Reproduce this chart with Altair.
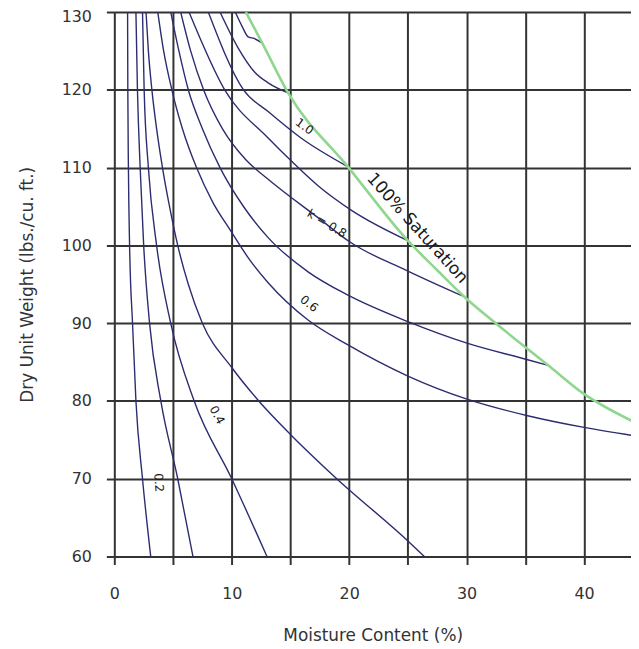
import altair as alt
import pandas as pd

# ---- curve data (moisture %, dry unit weight) ----
k02_x = [1.13, 1.15, 1.2, 1.3, 1.55, 1.84, 2.4, 3.1]
k02_y = [130, 120, 110, 100, 90, 80, 70, 60]

k03_x = [1.84, 1.97, 2.2, 2.5, 3.0, 3.96, 5.4, 6.7]
k03_y = [130, 120, 110, 100, 90, 80, 70, 60]

k04_x = [2.4, 2.54, 2.9, 3.6, 4.8, 6.8, 10.0, 13.0]
k04_y = [130, 120, 110, 100, 90, 80, 70, 60]

k05_x = [2.7, 2.9, 3.2, 3.6, 4.1, 4.7, 5.4, 6.3, 7.5, 10.0, 12.3, 15.0, 18.8, 25.0, 26.4]
k05_y = [130, 125, 120, 115, 110, 105, 100, 95, 90, 84.3, 80, 75.7, 70.2, 62.0, 60]

k06_x = [3.7, 4.2, 4.9, 5.8, 7.0, 8.4, 9.9, 11.5, 13.1, 16.5, 19.9, 25.0, 30.1, 35.2, 40.0, 44.4]
k06_y = [130, 125, 120, 115, 110, 105.5, 101.9, 98.2, 95.2, 90.4, 87.2, 83.2, 80.2, 78.1, 76.6, 75.5]

k07_x = [4.8, 5.5, 6.3, 7.5, 9.0, 11.0, 13.1, 16.5, 19.9, 25.0, 30.1, 35.2, 37.1]
k07_y = [130, 125, 120, 115, 110, 105, 101.0, 96.6, 93.6, 90.2, 87.4, 85.3, 84.5]

k08_x = [5.65, 6.5, 7.6, 9.2, 11.2, 13.1, 17.4, 20.1, 25.0, 29.8]
k08_y = [130, 125, 120, 115, 111, 108.5, 103.5, 100.4, 96.7, 93.4]

k09_x = [6.36, 9.4, 13.1, 15.1, 17.4, 20.2, 25.0]
k09_y = [130, 120, 113.8, 110.8, 107.6, 104.5, 100.6]

k10_x = [8.0, 11.0, 13.1, 15.9, 19.9]
k10_y = [130, 120, 117.2, 113.8, 110.1]

k11_x = [9.0, 10.5, 12.0, 13.1, 14.8]
k11_y = [130, 125.5, 122.2, 120.9, 119.6]

k12_x = [10.3, 10.9, 11.4, 11.9, 12.6]
k12_y = [130, 128.1, 126.8, 126.6, 126.0]

sat_x = [11.2, 12.6, 14.8, 19.9, 25.0, 27.5, 29.8, 32.3, 37.1, 39.9, 44.4]
sat_y = [130, 126.0, 119.6, 110.1, 100.6, 96.8, 93.4, 90.2, 84.4, 81.0, 77.2]

lab_text = ["1.0", "k = 0.8", "0.6", "0.4", "0.2"]
lab_x = [16.2, 18.1, 16.6, 8.76, 3.8]
lab_y = [115.3, 102.8, 92.5, 78.2, 69.5]
lab_angle = [36, 31, 38, 62, 86]

sat_text = ["100% Saturation"]
sat_lx = [25.8]
sat_ly = [102.2]

x_ticks = [0, 5, 10, 15, 20, 25, 30, 35, 40]
y_ticks = [60, 70, 80, 90, 100, 110, 120, 130]

# ---- build tables ----
curves = {
    "0.2": (k02_x, k02_y), "0.3": (k03_x, k03_y), "0.4": (k04_x, k04_y),
    "0.5": (k05_x, k05_y), "0.6": (k06_x, k06_y), "0.7": (k07_x, k07_y),
    "0.8": (k08_x, k08_y), "0.9": (k09_x, k09_y), "1.0": (k10_x, k10_y),
    "1.1": (k11_x, k11_y), "1.2": (k12_x, k12_y),
}
rows = []
for name, (xs, ys) in curves.items():
    for i, (a, b) in enumerate(zip(xs, ys)):
        rows.append({"curve": name, "x": a, "y": b, "i": i})
df = pd.DataFrame(rows)
sat_df = pd.DataFrame({"x": sat_x, "y": sat_y, "i": list(range(len(sat_x)))})
lab_df = pd.DataFrame({"t": lab_text, "x": lab_x, "y": lab_y, "a": lab_angle})
satlab_df = pd.DataFrame({"t": sat_text, "x": sat_lx, "y": sat_ly})

GRID = "#333333"
FONT = "DejaVu Sans"

xscale = alt.Scale(domain=[0, 44], nice=False, zero=False)
yscale = alt.Scale(domain=[60, 130], nice=False, zero=False)

xaxis = alt.Axis(
    values=x_ticks,
    labelExpr="datum.value % 10 === 0 ? datum.label : ''",
    labelFlush=False,
    title="Moisture Content (%)",
    grid=True, gridColor=GRID, gridWidth=2, gridOpacity=1,
    domain=False, ticks=True, tickSize=8, tickColor=GRID, tickWidth=2,
    labelFont=FONT, labelFontSize=16, labelColor="#333333", labelPadding=21,
    titleFont=FONT, titleFontSize=17, titleFontWeight="normal", titleColor="#333333",
    titlePadding=27,
)
yaxis = alt.Axis(
    values=y_ticks,
    labelFlush=False,
    title="Dry Unit Weight (lbs./cu. ft.)",
    grid=True, gridColor=GRID, gridWidth=2, gridOpacity=1,
    domain=False, ticks=True, tickSize=8, tickColor=GRID, tickWidth=2,
    labelFont=FONT, labelFontSize=16, labelColor="#333333", labelPadding=15,
    labelOffset={"condition": {"test": "datum.value === 130", "value": 5}, "value": 0},
    titleFont=FONT, titleFontSize=17, titleFontWeight="normal", titleColor="#333333",
    titlePadding=25,
)

lines = alt.Chart(df).mark_line(
    color="#2c2c70", strokeWidth=1.4, interpolate="monotone", clip=True
).encode(
    x=alt.X("x:Q", scale=xscale, axis=xaxis),
    y=alt.Y("y:Q", scale=yscale, axis=yaxis),
    detail="curve:N",
    order="i:Q",
)

sat = alt.Chart(sat_df).mark_line(
    color="#8fd68f", strokeWidth=2.6, interpolate="monotone", clip=True
).encode(
    x=alt.X("x:Q", scale=xscale),
    y=alt.Y("y:Q", scale=yscale),
    order="i:Q",
)

labels = alt.Chart(lab_df).mark_text(
    font=FONT, fontSize=12, color="#1a1a1a", align="center", baseline="middle"
).encode(
    x=alt.X("x:Q", scale=xscale),
    y=alt.Y("y:Q", scale=yscale),
    text="t:N",
    angle=alt.Angle("a:Q", scale=None),
)

satlab = alt.Chart(satlab_df).mark_text(
    font=FONT, fontSize=17, color="#1a1a1a", align="center", baseline="middle", angle=48
).encode(
    x=alt.X("x:Q", scale=xscale),
    y=alt.Y("y:Q", scale=yscale),
    text="t:N",
)

chart = alt.layer(lines, sat, labels, satlab).properties(
    width=520, height=548,
    autosize=alt.AutoSizeParams(type="none"),
    padding={"left": 107, "top": 2, "right": 0, "bottom": 88},
).configure_view(stroke=None).configure(background="white")

chart.save("out.html", embed_options={"renderer": "svg", "actions": False})
